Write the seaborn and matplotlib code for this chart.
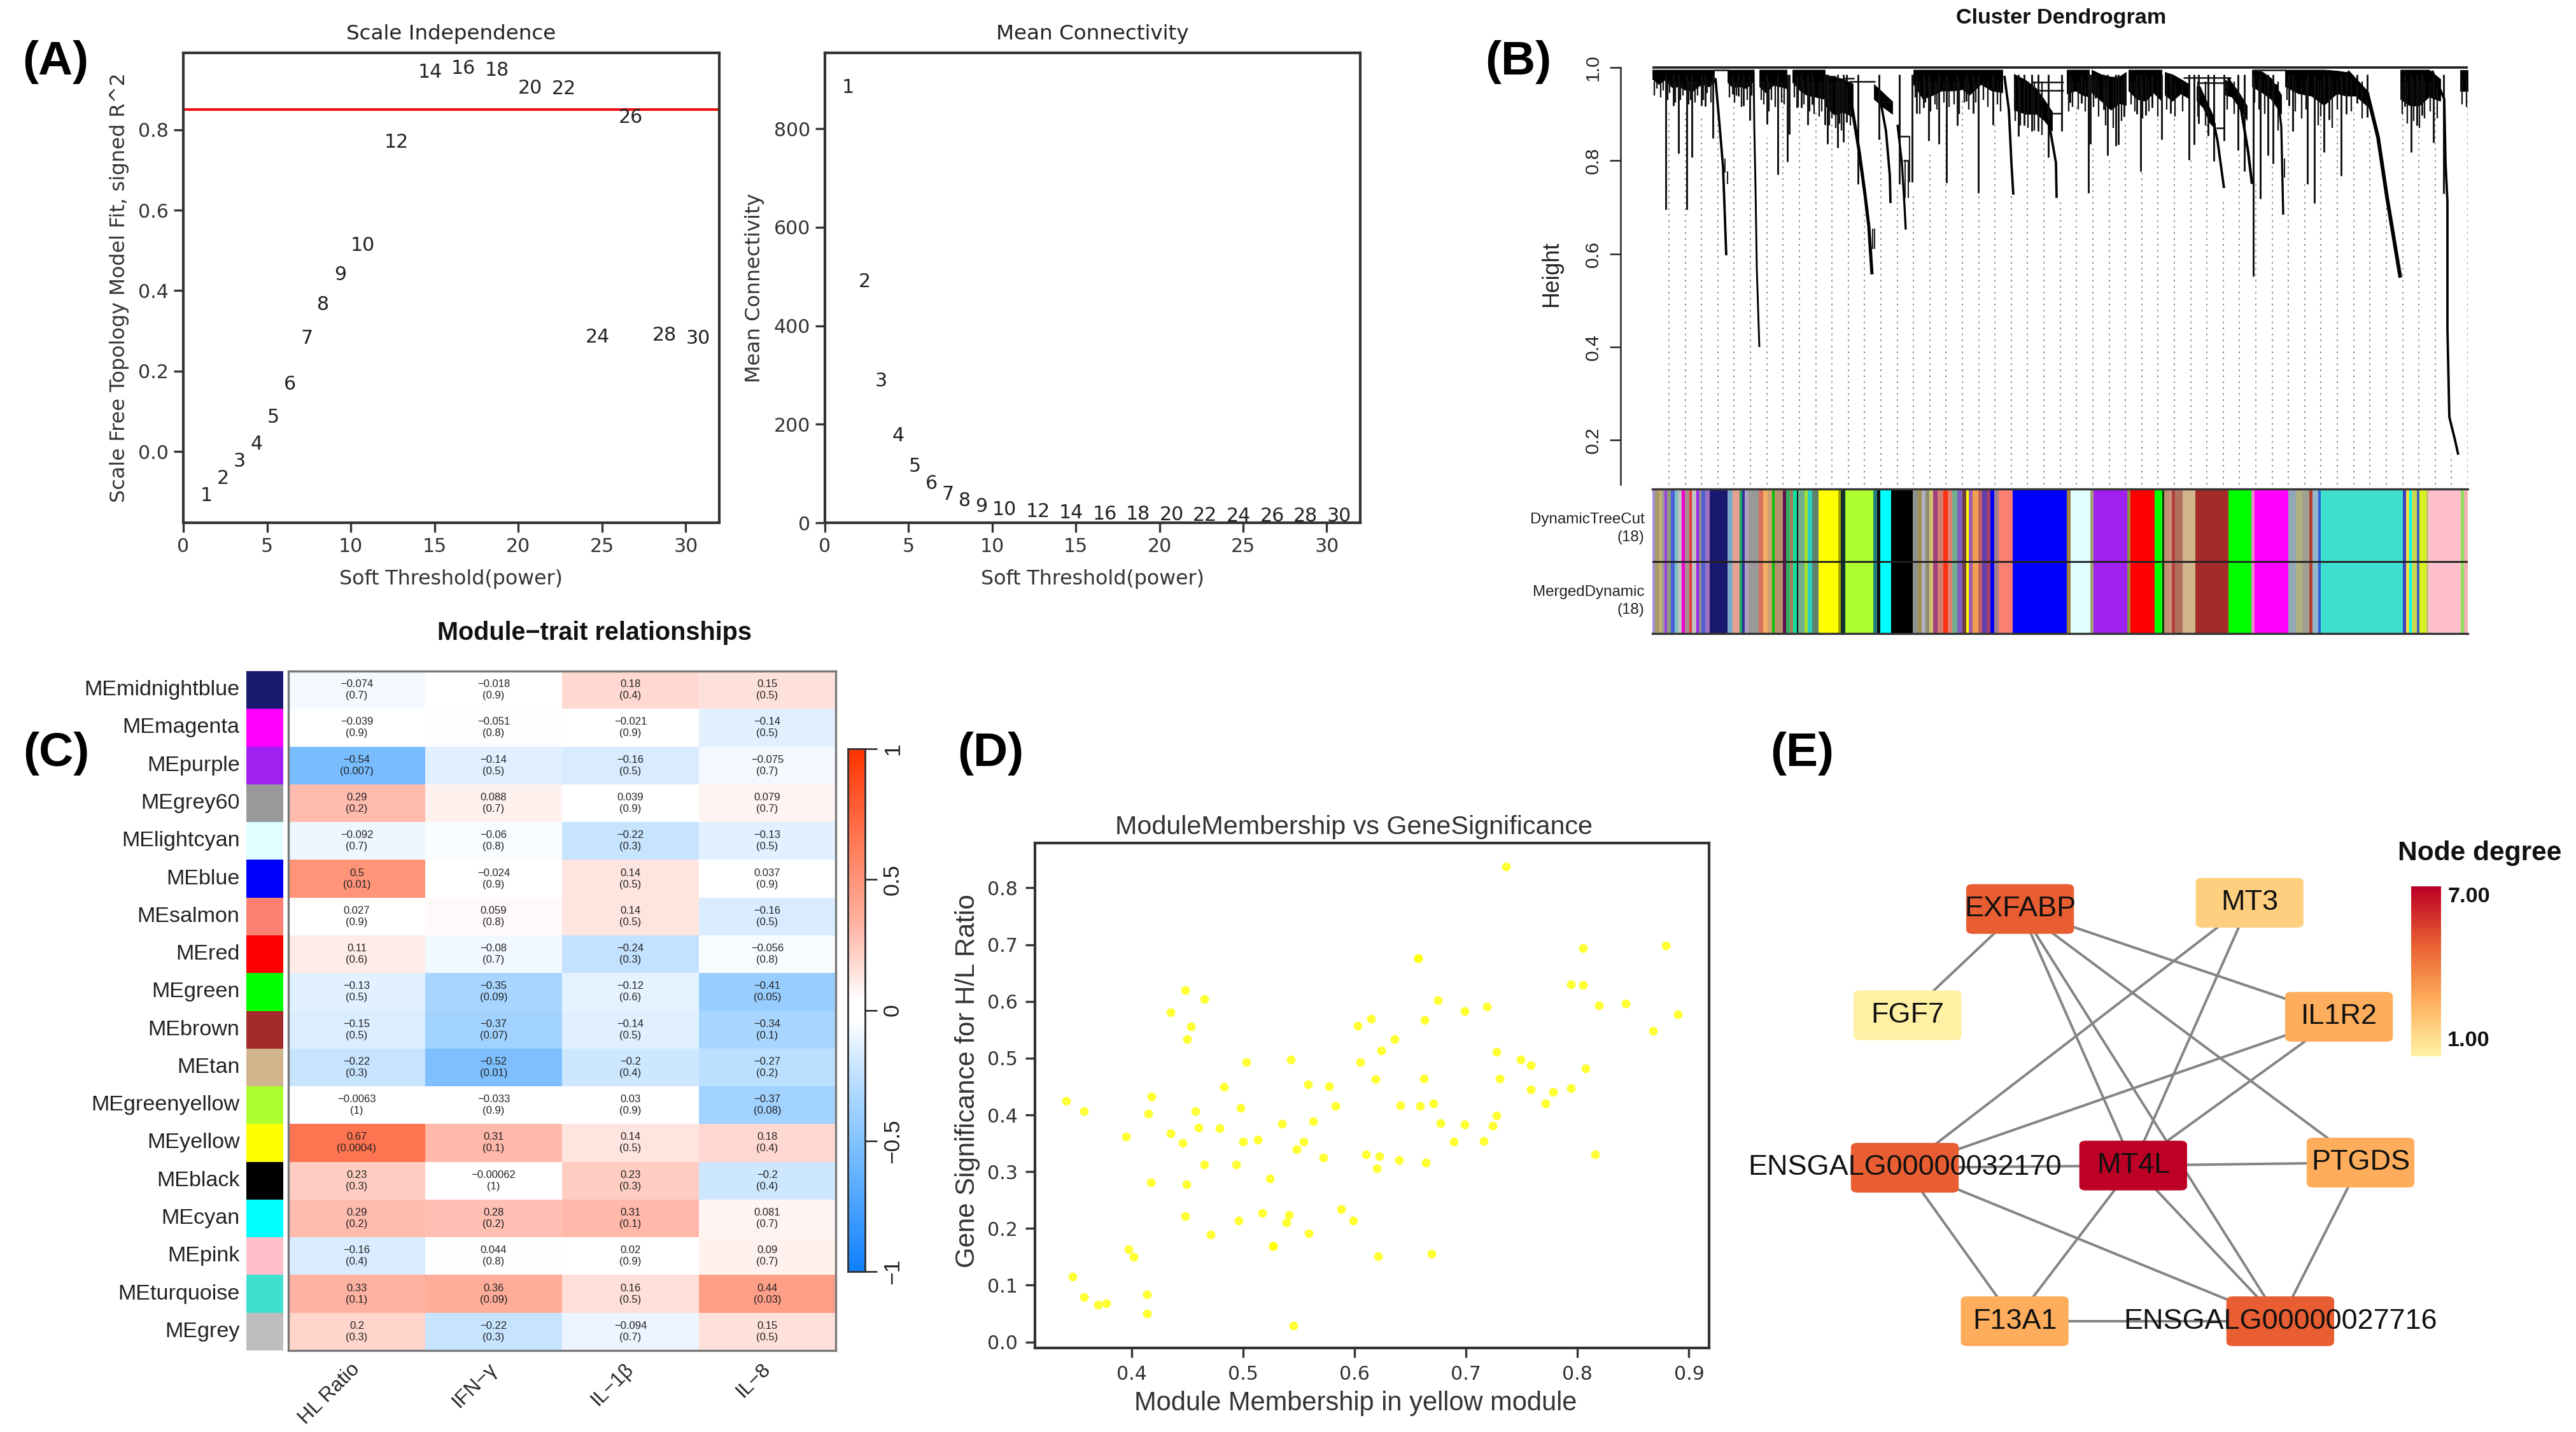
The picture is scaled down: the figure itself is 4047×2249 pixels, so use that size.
import numpy as np
import matplotlib
matplotlib.use('Agg')
import matplotlib.pyplot as plt
import seaborn as sns
from matplotlib.colors import LinearSegmentedColormap, ListedColormap
from matplotlib.patches import FancyBboxPatch

W, H = 4047, 2249

# Panel A
powers = [1, 2, 3, 4, 5, 6, 7, 8, 9, 10, 12, 14, 16, 18, 20, 22, 24, 26, 28, 30]
sft_r2 = [-0.109, -0.067, -0.024, 0.019, 0.085, 0.168, 0.281, 0.365, 0.440, 0.513,
          0.769, 0.943, 0.953, 0.948, 0.903, 0.902, 0.284, 0.831, 0.289, 0.281]
mean_k = [884, 489, 288, 177, 114, 80, 57, 44, 33, 27,
          23, 20, 17, 17, 16, 15, 14, 14, 13, 13]

# Panel B, x is leaf position along the tree, y is height
stem_x = [21, 33, 41, 54, 62, 77, 83, 95, 126, 135, 143, 153, 180, 197, 212, 215, 227, 234, 244, 251,
          271, 275, 291, 300, 305, 323, 356, 388, 408, 415, 426, 434, 450, 462, 479, 493, 504, 512, 535,
          575, 584, 596, 606, 622, 643, 656, 674, 685, 688, 696, 709, 715, 728, 732, 741, 761, 767, 775,
          785, 800, 814, 843, 851, 858, 873, 882, 898, 920, 930, 944, 955, 967, 975, 1000, 1006, 1029,
          1040, 1055, 1063, 1082, 1090, 1107, 1123, 1182, 1192, 1201, 1209, 1227, 1243]
stem_h = [.695, .918, .816, .695, .807, .918, .916, .848, .943, .939, .918, .886, .878, .770, .797, .857,
          .914, .914, .877, .920, .877, .836, .827, .840, .882, .750, .845, .750, .754, .902, .914, .843,
          .836, .752, .875, .927, .902, .731, .877, .852, .875, .863, .863, .807, .863, .925, .923, .731,
          .836, .934, .909, .811, .832, .834, .895, .900, .777, .898, .914, .845, .902, .802, .834, .879,
          .854, .799, .843, .822, .777, .552, .718, .811, .793, .918, .863, .750, .709, .818, .888, .768,
          .900, .923, .893, .916, .818, .875, .898, .838, .729]

# short branches that make the fringe under the top of the tree
short_x = [3, 7, 13, 17, 24, 27, 36, 44, 48, 57, 60, 67, 71, 80, 86, 92,
           121, 129, 132, 140, 149, 156,
           171, 175, 183, 187, 193, 203, 207,
           223, 229, 238, 247, 254, 262, 266,
           278, 282, 288, 294, 297, 311,
           413, 420, 429, 437, 444, 447, 458, 466, 474, 482, 490, 497, 508, 520, 527, 542, 547,
           570, 578, 590, 600, 612,
           654, 660, 669, 680,
           693, 701, 712, 724, 737,
           752, 758, 770, 780, 794,
           808, 821, 833,
           857, 869,
           903, 914,
           946, 953, 962, 983,
           997, 1010, 1020, 1027, 1046, 1050, 1068, 1076, 1098, 1115,
           1178, 1186, 1196, 1205, 1213, 1222, 1233,
           1272, 1279]
short_h = [.94, .955, .935, .95, .93, .945, .925, .93, .94, .92, .93, .925, .94, .93, .945, .925,
           .935, .925, .94, .915, .93, .94,
           .93, .92, .905, .93, .915, .925, .92,
           .935, .915, .92, .905, .90, .895, .905,
           .875, .89, .87, .88, .865, .875,
           .935, .90, .925, .905, .92, .91, .925, .915, .92, .90, .925, .91, .925, .93, .915, .92, .905,
           .885, .875, .87, .865, .855,
           .905, .915, .91, .905,
           .915, .895, .875, .87, .885,
           .92, .905, .89, .905, .895,
           .91, .895, .905,
           .895, .875,
           .91, .90,
           .925, .91, .90, .865,
           .93, .905, .89, .91, .875, .895, .87, .91, .905, .89,
           .90, .88, .885, .87, .89, .905, .89,
           .92, .915]

tails = [
    ([99, 106, 111, 116], [.977, .868, .786, .597]),
    ([159, 160, 162, 164, 168], [.995, .877, .741, .568, .400]),
    ([307, 317, 325, 334, 340, 345], [.968, .886, .818, .727, .659, .556]),
    ([359, 367, 373, 374], [.923, .863, .768, .709]),
    ([385, 392, 396, 398], [.877, .795, .704, .652]),
    ([553, 560, 564, 567], [.982, .909, .795, .727]),
    ([611, 624, 634, 635], [.923, .873, .795, .720]),
    ([859, 880, 888, 898], [.959, .895, .841, .741]),
    ([905, 925, 936, 942], [.977, .909, .818, .750]),
    ([980, 988, 991], [.964, .873, .684]),
    ([1092, 1123, 1140, 1154, 1175], [.991, .945, .850, .722, .549]),
    ([1225, 1244, 1246, 1249], [.993, .932, .795, .713]),
    ([1249, 1249, 1252, 1261, 1266], [.713, .44, .25, .20, .169]),
]
tail_width = [0.9, 0.7, 1.2, 0.9, 0.8, 0.9, 0.9, 0.9, 1.0, 0.8, 1.4, 0.9, 0.9]

fringes = [
    ([0, 10, 19, 31, 41, 54, 64, 77, 89, 97], [.995] * 10, [.961, .950, .959, .943, .945, .936, .936, .950, .945, .954]),
    ([118, 126, 137, 147, 157], [.995] * 5, [.954, .943, .945, .941, .954]),
    ([168, 178, 190, 200, 211], [.995] * 5, [.945, .932, .948, .945, .941]),
    ([220, 232, 242, 255, 271], [.995] * 5, [.954, .936, .927, .923, .918]),
    ([271, 285, 300, 315], [.985, .98, .975, .965], [.905, .885, .89, .88]),
    ([348, 363, 377], [.964, .945, .927], [.918, .90, .886]),
    ([410, 425, 441, 454, 471, 487, 498, 516, 533, 550], [.995] * 10, [.950, .918, .927, .936, .936, .939, .927, .950, .936, .932]),
    ([568, 586, 603, 615, 628], [.986, .973, .955, .932, .905], [.895, .886, .886, .873, .85]),
    ([651, 665, 675, 686], [.995] * 4, [.93, .936, .927, .923]),
    ([690, 705, 720, 733, 744], [.995, .985, .98, .98, .99], [.932, .914, .895, .909, .905]),
    ([748, 761, 775, 787, 800], [.995] * 5, [.936, .918, .914, .932, .914]),
    ([805, 817, 830, 842], [.99, .985, .975, .965], [.927, .914, .93, .92]),
    ([855, 865, 875, 884], [.959, .94, .905, .88], [.914, .90, .868, .854]),
    ([900, 910, 922, 934], [.973, .968, .945, .918], [.927, .923, .90, .873]),
    ([942, 958, 972, 988], [.995, .991, .977, .941], [.945, .932, .918, .886]),
    ([994, 1015, 1035, 1055, 1075, 1090, 1105, 1125], [.995, .995, .995, .995, .993, .99, .975, .945],
     [.945, .93, .925, .905, .93, .925, .925, .90]),
    ([1175, 1190, 1205, 1220, 1238], [.995, .995, .995, .995, .975], [.918, .904, .904, .923, .914]),
    ([1269, 1281], [.995, .995], [.935, .935]),
]

# merges drawn as horizontal links: start, end, height
link_start = [97, 309, 361, 270, 300, 385, 394, 595, 607, 624, 834, 859, 886, 944]
link_end = [120, 350, 377, 288, 317, 404, 402, 646, 646, 643, 909, 900, 898, 996]
link_h = [.995, .97, .926, .98, .977, .852, .80, .968, .95, .902, .978, .967, .87, .995]

# small closed pairs low on the branches: x, top, bottom
pair_x = [114, 118, 346, 349, 389, 404, 397, 402, 989, 993]
pair_top = [.805, .777, .654, .654, .852, .852, .80, .80, .836, .804]
pair_bottom = [.775, .75, .611, .611, .75, .754, .72, .72, .809, .763]

guide_top = [.91, .91, .89, .91, .934, .86, .85, .94, .91, .91, .88, .87, .695, .85, .745, .73, .818, .886,
             .932, .73, .877, .727, .86, .84, .72, .923, .836, .81, .88, .777, .89, .914, .80, .88, .713,
             .82, .75, .795, .914, .75, .904, .895, .914, .873, .704, .914, .873, .914, .17, .93]

band_edges = [0, 4, 11, 15, 19, 23, 29, 35, 40, 46, 51, 58, 62, 69, 73, 77, 83, 90, 118, 126, 137, 141, 145, 151,
              167, 174, 181, 188, 192, 205, 210, 216, 221, 227, 229, 239, 244, 251, 261, 292, 296, 303, 347, 353,
              358, 375, 409, 417, 423, 429, 435, 441, 448, 457, 464, 471, 479, 487, 493, 497, 503, 512, 518,
              525, 531, 537, 544, 566, 651, 657, 688, 693, 746, 751, 789, 801, 804, 812, 816, 821, 833, 853,
              905, 941, 946, 999, 1011, 1021, 1032, 1037, 1046, 1050, 1179, 1184, 1189, 1193, 1201, 1205,
              1216, 1219, 1270, 1275, 1281]
band_colors = ['#9D8FD8', '#A89B6B', '#C8B070', '#999999', '#A040E0', '#8C9C7C', '#4D5FD8', '#7CC0C8', '#C0C0C0',
               '#F000D0', '#A89090', '#E83838', '#C0C0C0', '#A020F0', '#909090', '#5060D0', '#A070C0', '#191970',
               '#7CA8C8', '#E8A090', '#20A860', '#3030A0', '#B0A0C0', '#999999', '#D87060', '#F0B060', '#D0A070',
               '#00C000', '#B89070', '#601050', '#30B060', '#A08060', '#10E0A0', '#101010', '#70B090', '#A8E030',
               '#30D0C0', '#608070', '#FFFF00', '#A0A000', '#103030', '#ADFF2F', '#208080', '#101010', '#00FFFF',
               '#000000', '#909090', '#A09050', '#B0B0C0', '#909070', '#D0C070', '#A04080', '#D08070', '#FF3010',
               '#E08070', '#70B090', '#8060C0', '#704040', '#FFFF00', '#A060B0', '#F0A050', '#C06060', '#6040B0',
               '#A04070', '#0000FF', '#A08090', '#FA8072', '#0000FF', '#A08040', '#E0FFFF', '#A0A070', '#A020F0',
               '#909040', '#FF0000', '#00FF00', '#103010', '#C09070', '#D09080', '#B04040', '#B07060', '#D2B48C',
               '#A52A2A', '#00FF00', '#F080D0', '#FF00FF', '#90A8B8', '#B0B080', '#A0A090', '#B04030', '#90B8C8',
               '#3060E0', '#40E0D0', '#4040C0', '#F0E040', '#00FFFF', '#C8D850', '#4060C0', '#D8F020', '#C0C080',
               '#FFC0CB', '#90E060', '#F0B0B0']
band_rows = ['DynamicTreeCut\n(18)', 'MergedDynamic\n(18)']

# Panel C
modules = ['MEmidnightblue', 'MEmagenta', 'MEpurple', 'MEgrey60', 'MElightcyan', 'MEblue', 'MEsalmon', 'MEred',
           'MEgreen', 'MEbrown', 'MEtan', 'MEgreenyellow', 'MEyellow', 'MEblack', 'MEcyan', 'MEpink',
           'MEturquoise', 'MEgrey']
module_colors = ['#191970', '#FF00FF', '#A020F0', '#999999', '#E0FFFF', '#0000FF', '#FA8072', '#FF0000', '#00FF00',
                 '#A52A2A', '#D2B48C', '#ADFF2F', '#FFFF00', '#000000', '#00FFFF', '#FFC0CB', '#40E0D0', '#BEBEBE']
traits = ['HL Ratio', 'IFN\u2212\u03b3', 'IL\u22121\u03b2', 'IL\u22128']
corr = [[-0.074, -0.018, 0.18, 0.15], [-0.039, -0.051, -0.021, -0.14], [-0.54, -0.14, -0.16, -0.075],
        [0.29, 0.088, 0.039, 0.079], [-0.092, -0.06, -0.22, -0.13], [0.5, -0.024, 0.14, 0.037],
        [0.027, 0.059, 0.14, -0.16], [0.11, -0.08, -0.24, -0.056], [-0.13, -0.35, -0.12, -0.41],
        [-0.15, -0.37, -0.14, -0.34], [-0.22, -0.52, -0.2, -0.27], [-0.0063, -0.033, 0.03, -0.37],
        [0.67, 0.31, 0.14, 0.18], [0.23, -0.00062, 0.23, -0.2], [0.29, 0.28, 0.31, 0.081],
        [-0.16, 0.044, 0.02, 0.09], [0.33, 0.36, 0.16, 0.44], [0.2, -0.22, -0.094, 0.15]]
pvals = [['0.7', '0.9', '0.4', '0.5'], ['0.9', '0.8', '0.9', '0.5'], ['0.007', '0.5', '0.5', '0.7'],
         ['0.2', '0.7', '0.9', '0.7'], ['0.7', '0.8', '0.3', '0.5'], ['0.01', '0.9', '0.5', '0.9'],
         ['0.9', '0.8', '0.5', '0.5'], ['0.6', '0.7', '0.3', '0.8'], ['0.5', '0.09', '0.6', '0.05'],
         ['0.5', '0.07', '0.5', '0.1'], ['0.3', '0.01', '0.4', '0.2'], ['1', '0.9', '0.9', '0.08'],
         ['0.0004', '0.1', '0.5', '0.4'], ['0.3', '1', '0.3', '0.4'], ['0.2', '0.2', '0.1', '0.7'],
         ['0.4', '0.8', '0.9', '0.7'], ['0.1', '0.09', '0.5', '0.03'], ['0.3', '0.3', '0.7', '0.5']]

# Panel D
membership = [.341, .357, .347, .357, .370, .377, .395, .397, .402, .415, .418, .417, .414, .414, .435, .435, .446,
              .448, .448, .449, .450, .453, .457, .460, .465, .465, .471, .479, .483, .494, .496, .498, .500, .503,
              .513, .517, .524, .527, .527, .535, .539, .541, .543, .545, .548, .554, .558, .559, .563, .572, .577,
              .583, .588, .599, .603, .605, .610, .615, .619, .620, .622, .621, .624, .636, .640, .641, .657, .657,
              .659, .662, .663, .664, .669, .671, .675, .677, .689, .699, .699, .716, .719, .724, .727, .727, .730,
              .736, .749, .758, .758, .771, .778, .794, .794, .805, .805, .807, .816, .819, .843, .868, .879, .890]
significance = [.425, .407, .115, .079, .066, .068, .362, .163, .150, .402, .433, .281, .084, .050, .581, .368, .351,
                .620, .222, .278, .533, .556, .407, .378, .604, .313, .189, .376, .449, .313, .214, .412, .353, .493,
                .356, .227, .288, .169, .169, .384, .211, .224, .498, .029, .340, .353, .454, .191, .389, .325, .450,
                .416, .234, .214, .557, .493, .331, .569, .463, .306, .327, .151, .513, .534, .320, .417, .676, .676,
                .416, .464, .567, .316, .156, .420, .602, .386, .353, .583, .383, .354, .591, .381, .399, .511, .464,
                .837, .498, .445, .488, .420, .440, .447, .630, .694, .629, .482, .331, .593, .596, .548, .698, .577]

# Panel E
node_names = ['EXFABP', 'MT3', 'FGF7', 'IL1R2', 'ENSGALG00000032170', 'MT4L', 'PTGDS', 'F13A1', 'ENSGALG00000027716']
node_col = [536, 962, 327, 1128, 322, 746, 1168, 526, 1019]
node_row = [292, 275, 583, 587, 1000, 994, 986, 1420, 1420]
edges = [('EXFABP', 'FGF7'), ('EXFABP', 'MT4L'), ('EXFABP', 'ENSGALG00000027716'), ('EXFABP', 'PTGDS'),
         ('EXFABP', 'IL1R2'), ('MT3', 'ENSGALG00000032170'), ('MT3', 'MT4L'), ('IL1R2', 'ENSGALG00000032170'),
         ('IL1R2', 'MT4L'), ('ENSGALG00000032170', 'MT4L'), ('MT4L', 'PTGDS'), ('ENSGALG00000032170', 'F13A1'),
         ('ENSGALG00000032170', 'ENSGALG00000027716'), ('MT4L', 'F13A1'), ('MT4L', 'ENSGALG00000027716'),
         ('PTGDS', 'ENSGALG00000027716'), ('F13A1', 'ENSGALG00000027716')]

sns.set_theme(style='ticks')
plt.rcParams['font.family'] = ['Liberation Sans', 'DejaVu Sans']
plt.rcParams['axes.edgecolor'] = '#333333'
plt.rcParams['text.color'] = '#222222'
plt.rcParams['xtick.color'] = '#333333'
plt.rcParams['ytick.color'] = '#333333'
plt.rcParams['axes.labelcolor'] = '#333333'

fig = plt.figure(figsize=(W / 300, H / 300), dpi=300)


def add_ax(x0, y0, x1, y1):
    return fig.add_axes([x0 / W, 1 - y1 / H, (x1 - x0) / W, (y1 - y0) / H])


def fig_text(x, y, s, **kw):
    fig.text(x / W, 1 - y / H, s, ha=kw.pop('ha', 'center'), va=kw.pop('va', 'center'), **kw)


for s, x, y in [('(A)', 87, 97), ('(B)', 2385, 97), ('(C)', 88, 1183), ('(D)', 1556, 1183), ('(E)', 2831, 1183)]:
    fig_text(x, y, s, fontsize=18, fontweight='bold', color='black')


def soft_panel(box, values, ylim, title, ylabel, yticks):
    ax = add_ax(*box)
    for p, v in zip(powers, values):
        ax.text(p, v, str(p), ha='left', va='center', fontsize=7.2, family='DejaVu Sans', color='#222222')
    ax.set_xlim(0, 32)
    ax.set_ylim(*ylim)
    ax.set_xticks(range(0, 31, 5))
    ax.set_yticks(yticks)
    ax.tick_params(labelsize=7.2, length=3.5, width=0.8, pad=2)
    for lab in ax.get_xticklabels() + ax.get_yticklabels():
        lab.set_family('DejaVu Sans')
    ax.set_title(title, fontsize=7.8, family='DejaVu Sans', color='#222222', pad=5)
    ax.set_xlabel('Soft Threshold(power)', fontsize=7.6, family='DejaVu Sans', labelpad=5)
    ax.set_ylabel(ylabel, fontsize=7.7, family='DejaVu Sans', labelpad=3.5)
    for sp in ax.spines.values():
        sp.set_linewidth(1.0)
    return ax


ax_a1 = soft_panel((288, 83, 1130, 821), sft_r2, (-0.177, 0.991), 'Scale Independence',
                   'Scale Free Topology Model Fit, signed R^2', [0, 0.2, 0.4, 0.6, 0.8])
ax_a1.axhline(0.85, color='#F01010', lw=1.0)
soft_panel((1296, 83, 2137, 821), mean_k, (0, 954), 'Mean Connectivity', 'Mean Connectivity', [0, 200, 400, 600, 800])

# Panel B
ax_b = add_ax(2596, 100, 3877, 761)
ax_b.set_xlim(0, 1281)
ax_b.set_ylim(0.105, 1.008)
guide_x = np.linspace(26, 1281, 50)
ax_b.vlines(guide_x, 0.105, guide_top, color='#8a8a8a', lw=0.45, linestyles=(0, (1.5, 3.5)), zorder=1)
for fx, ftop, fbot in fringes:
    ax_b.fill_between(fx, ftop, np.array(fbot) + 0.014, color='black', lw=0.2, zorder=2)
ax_b.vlines(short_x, 0.97, short_h, color='#111111', lw=0.55, zorder=3)
ax_b.vlines(stem_x, 0.985, stem_h, color='#111111', lw=0.7, zorder=3)
ax_b.vlines(pair_x, pair_top, pair_bottom, color='#222222', lw=0.5, zorder=3)
ax_b.hlines(link_h, link_start, link_end, color='#111111', lw=0.6, zorder=3)
for (tx, th), tw in zip(tails, tail_width):
    ax_b.plot(tx, th, color='black', lw=tw, solid_capstyle='butt', zorder=3)
ax_b.hlines(1.0, 0, 1281, color='#222222', lw=0.9, zorder=4)
sns.despine(ax=ax_b, bottom=True, offset={'left': 12})
ax_b.spines['left'].set_bounds(0.105, 1.0)
ax_b.spines['left'].set_color('#222222')
ax_b.spines['left'].set_linewidth(0.6)
ax_b.set_xticks([])
ax_b.set_yticks([0.2, 0.4, 0.6, 0.8, 1.0])
ax_b.set_yticklabels(['0.2', '0.4', '0.6', '0.8', '1.0'], rotation=90, va='center', fontsize=7.2, color='#222222')
ax_b.tick_params(axis='y', length=4, width=0.6, pad=3, color='#222222')
ax_b.set_ylabel('Height', fontsize=8.6, color='#222222', labelpad=8)
fig_text(3238, 29, 'Cluster Dendrogram', fontsize=8.2, fontweight='bold', color='#111111')

ax_bands = add_ax(2596, 768, 3877, 995)
band_left = np.array(band_edges[:-1])
band_width = np.diff(band_edges)
for row in range(2):
    ax_bands.barh(row, band_width, left=band_left, height=1, color=band_colors, linewidth=0)
ax_bands.set_xlim(0, 1281)
ax_bands.set_ylim(1.5, -0.5)
ax_bands.axhline(0.5, color='#222222', lw=0.7)
ax_bands.set_xticks([])
ax_bands.set_yticks([0, 1])
ax_bands.set_yticklabels(band_rows, fontsize=5.8, color='#222222', ha='right', linespacing=1.35)
ax_bands.tick_params(axis='y', length=0, pad=3)
for side in ['left', 'right']:
    ax_bands.spines[side].set_visible(False)
for side in ['top', 'bottom']:
    ax_bands.spines[side].set_linewidth(0.8)

# Panel C
trait_cmap = LinearSegmentedColormap.from_list('bwr_wgcna', [
    (0.0, '#0F80FF'), (0.23, '#7ABEFF'), (0.325, '#A7D5FF'), (0.40, '#CDE7FF'), (0.45, '#EBF5FF'),
    (0.48, '#FFFFFF'), (0.52, '#FFFFFF'), (0.55, '#FFEFEB'), (0.60, '#FFD5CC'), (0.665, '#FFB3A2'),
    (0.75, '#FF957A'), (0.835, '#FF7450'), (1.0, '#FF3300')])
corr_arr = np.array(corr)
cell_text = [[f'{v:g}'.replace('-', '\u2212') + f'\n({p})' for v, p in zip(rv, rp)] for rv, rp in zip(corr, pvals)]

ax_c = add_ax(453, 1054, 1313, 2121)
cax = add_ax(1332, 1176, 1359, 1997)
sns.heatmap(corr_arr, ax=ax_c, cmap=trait_cmap, vmin=-1, vmax=1, annot=np.array(cell_text), fmt='',
            annot_kws={'fontsize': 4, 'color': '#222222', 'linespacing': 1.25},
            xticklabels=traits, yticklabels=False, cbar_ax=cax)
ax_c.tick_params(axis='x', length=0, pad=6)
for lab in ax_c.get_xticklabels():
    lab.set(rotation=45, ha='right', va='center', rotation_mode='anchor', fontsize=7.6, color='#222222')
for sp in ax_c.spines.values():
    sp.set_visible(True)
    sp.set_color('#777777')
    sp.set_linewidth(0.8)
cax.set_yticks([-1, -0.5, 0, 0.5, 1])
cax.set_yticklabels(['\u22121', '\u22120.5', '0', '0.5', '1'], rotation=90, va='center', fontsize=8.5, color='#222222')
cax.tick_params(length=4.5, width=0.6, pad=2, color='#222222')
for sp in cax.spines.values():
    sp.set_visible(True)
    sp.set_linewidth(0.6)
fig_text(934, 994, 'Module\u2212trait relationships', fontsize=9.5, fontweight='bold', color='#111111')

ax_cc = add_ax(387, 1054, 445, 2121)
sns.heatmap(np.arange(len(modules)).reshape(-1, 1), ax=ax_cc, cmap=ListedColormap(module_colors), cbar=False,
            xticklabels=False, yticklabels=modules)
ax_cc.tick_params(axis='y', length=0, pad=2.5)
for lab in ax_cc.get_yticklabels():
    lab.set(rotation=0, fontsize=8.2, color='#222222')

# Panel D
ax_d = add_ax(1626, 1324, 2685, 2117)
sns.scatterplot(x=membership, y=significance, color='#FFFF00', s=11, alpha=0.8, linewidth=0, ax=ax_d)
ax_d.set_xlim(0.3133, 0.918)
ax_d.set_ylim(-0.0105, 0.879)
ax_d.set_xticks([0.4, 0.5, 0.6, 0.7, 0.8, 0.9])
ax_d.set_yticks([0, 0.1, 0.2, 0.3, 0.4, 0.5, 0.6, 0.7, 0.8])
ax_d.tick_params(labelsize=7.2, length=3.5, width=0.8, pad=3)
for lab in ax_d.get_xticklabels() + ax_d.get_yticklabels():
    lab.set_family('DejaVu Sans')
fig_text(2127, 1299, 'ModuleMembership vs GeneSignificance', fontsize=9.9, color='#333333')
fig_text(2130, 2204, 'Module Membership in yellow module', fontsize=10, color='#333333')
fig_text(1520, 1698, 'Gene Significance for H/L Ratio', fontsize=10.1, color='#333333', rotation=90)
for sp in ax_d.spines.values():
    sp.set_linewidth(1.0)

# Panel E
degree_cmap = LinearSegmentedColormap.from_list('degree', [
    (0.0, '#FFF0A3'), (1 / 6, '#FECF7F'), (2 / 6, '#FDAD5B'), (4 / 6, '#E85D31'), (1.0, '#BD0026')])
ax_e = add_ax(2720, 1260, 4047, 2160)
ax_e.set_xlim(0, 1568)
ax_e.set_ylim(1568, 0)
ax_e.axis('off')
node_xy = dict(zip(node_names, zip(node_col, node_row)))
degree = {n: sum(n in e for e in edges) for n in node_names}
for a, b in edges:
    ax_e.plot([node_xy[a][0], node_xy[b][0]], [node_xy[a][1], node_xy[b][1]], color='#848484', lw=0.95, zorder=1)
for n in node_names:
    cx, cy = node_xy[n]
    ax_e.add_patch(FancyBboxPatch((cx - 90, cy - 58), 180, 116, boxstyle='round,pad=10,rounding_size=12',
                                  facecolor=degree_cmap((degree[n] - 1) / 6), edgecolor='none', zorder=2))
for n in node_names:
    ax_e.text(*node_xy[n], n, ha='center', va='center', fontsize=10.8, color='#111111', zorder=3)

ax_e2 = add_ax(2720 + 1263 * 0.846, 1260 + 230 * 0.574, 2720 + 1318 * 0.846, 1260 + 695 * 0.574)
ax_e2.pcolormesh([0, 1], np.linspace(1, 7, 61), np.linspace(1, 7, 60).reshape(-1, 1), cmap=degree_cmap, vmin=1, vmax=7)
ax_e2.axis('off')
fig_text(2720 + 1390 * 0.846, 1260 + 140 * 0.574, 'Node degree', fontsize=10.2, fontweight='bold', color='#111111')
fig_text(2720 + 1330 * 0.846, 1260 + 258 * 0.574, '7.00', fontsize=8.2, fontweight='bold', ha='left', color='#111111')
fig_text(2720 + 1330 * 0.846, 1260 + 652 * 0.574, '1.00', fontsize=8.2, fontweight='bold', ha='left', color='#111111')

fig.savefig('out.png', dpi=300)
